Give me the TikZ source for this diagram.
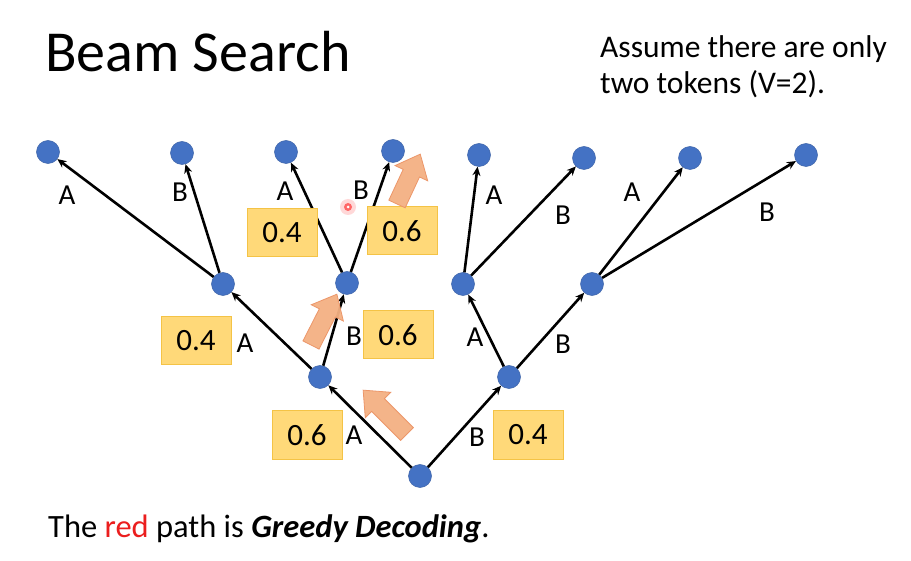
\documentclass[tikz,border=0pt]{standalone}
\usepackage{fontspec}
\setmainfont{Carlito}
\usetikzlibrary{arrows.meta}
\definecolor{nodeblue}{RGB}{68,114,196}
\definecolor{boxfill}{RGB}{255,217,121}
\definecolor{boxedge}{RGB}{244,195,70}
\definecolor{orangefill}{RGB}{244,177,131}
\definecolor{orangeedge}{RGB}{236,150,105}
\definecolor{redtext}{RGB}{235,30,30}
\begin{document}
\begin{tikzpicture}[x=1pt,y=-1pt,
  tok/.style={circle,fill=nodeblue,draw=nodeblue!85!black,line width=0.5pt,minimum size=23pt,inner sep=0pt},
  edge/.style={-{Stealth[length=9pt,width=8pt]},line width=2.6pt},
  prob/.style={rectangle,fill=boxfill,draw=boxedge,line width=1pt,minimum width=70pt,minimum height=48pt,inner sep=0pt,font=\fontsize{31}{36}\selectfont},
  lab/.style={font=\fontsize{29}{34}\selectfont,inner sep=0pt},
  txt/.style={font=\fontsize{31.5}{36}\selectfont,inner sep=0pt,anchor=base west},
  pics/barrow/.style={code={\fill[orangefill,draw=orangeedge,line width=0.8pt,fill opacity=0.95]
     (0,-9)--(#1-21,-9)--(#1-21,-18)--(#1,0)--(#1-21,18)--(#1-21,9)--(0,9)--cycle;}}
]
\fill[white] (0,0) rectangle (911,561);
\useasboundingbox (0,0) rectangle (911,561);

% texts
\node[txt,font=\fontsize{58}{66}\selectfont] (title) at (45,72) {Beam Search};
\node[txt] (assume1) at (600,58) {Assume there are only};
\node[txt] (assume2) at (600,94) {two tokens (V=2).};
\node[txt,font=\fontsize{32.5}{38}\selectfont] (bottom) at (48,537) {The {\color{redtext}red} path is \textbf{\textit{Greedy Decoding}}.};

% tree nodes
\node[tok] (r) at (420,476) {};
\node[tok] (a) at (320,377) {};
\node[tok] (b) at (509,377) {};
\node[tok] (aa) at (223,284) {};
\node[tok] (ab) at (347,283) {};
\node[tok] (ba) at (463,284) {};
\node[tok] (bb) at (592,284) {};
\node[tok] (aaa) at (48,152) {};
\node[tok] (aab) at (182,153) {};
\node[tok] (aba) at (286,152) {};
\node[tok] (abb) at (393,151) {};
\node[tok] (baa) at (479,155) {};
\node[tok] (bab) at (584,158) {};
\node[tok] (bba) at (690,158) {};
\node[tok] (bbb) at (806,155) {};

% edges
\draw[edge] (r) -- (a);
\draw[edge] (r) -- (b);
\draw[edge] (a) -- (aa);
\draw[edge] (a) -- (ab);
\draw[edge] (b) -- (ba);
\draw[edge] (b) -- (bb);
\draw[edge] (aa) -- (aaa);
\draw[edge] (aa) -- (aab);
\draw[edge] (ab) -- (aba);
\draw[edge] (ab) -- (abb);
\draw[edge] (ba) -- (baa);
\draw[edge] (ba) -- (bab);
\draw[edge] (bb) -- (bba);
\draw[edge] (bb) -- (bbb);

% token labels
\node[lab] (lA1) at (354,435) {A};
\node[lab] (lB1) at (477,437) {B};
\node[lab] (lA2) at (245,343) {A};
\node[lab] (lB2) at (354,336) {B};
\node[lab] (lA3) at (475,337) {A};
\node[lab] (lB3) at (563,344) {B};
\node[lab] (lA4) at (67,195) {A};
\node[lab] (lB4) at (180,192) {B};
\node[lab] (lA5) at (285,191) {A};
\node[lab] (lB5) at (361,190) {B};
\node[lab] (lA6) at (494,195) {A};
\node[lab] (lB6) at (563,215) {B};
\node[lab] (lA7) at (632,192) {A};
\node[lab] (lB7) at (767,212) {B};

% probability boxes
\node[prob] (p1) at (307,435) {0.6};
\node[prob] (p2) at (528,435) {0.4};
\node[prob] (p3) at (196,341) {0.4};
\node[prob] (p4) at (398,335) {0.6};
\node[prob] (p5) at (282,233) {0.4};
\node[prob] (p6) at (402,231) {0.6};

% orange block arrows
\pic[rotate=135] at (407,434) {barrow=62};
\pic[rotate=63] at (311,345) {barrow=57};
\pic[rotate=65] at (397,204) {barrow=55};

% laser pointer dot
\fill[red!25,opacity=0.6] (348,207) circle (8);
\fill[red!60] (348,207) circle (4);
\fill[white] (348,207) circle (1.5);
\end{tikzpicture}
\end{document}
